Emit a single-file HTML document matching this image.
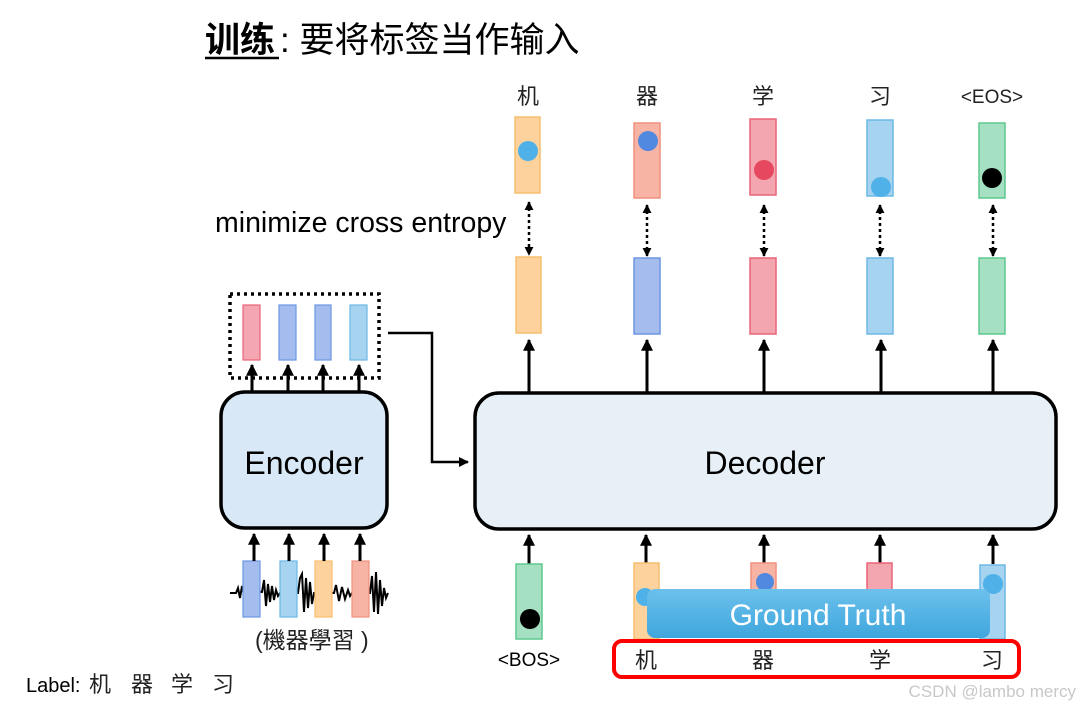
<!DOCTYPE html>
<html><head><meta charset="utf-8"><style>
html,body{margin:0;padding:0;background:#fff;}
svg{display:block;}
text{font-family:"Liberation Sans","Noto Sans CJK SC",sans-serif;}
</style></head><body>
<svg width="1080" height="706" viewBox="0 0 1080 706" xmlns="http://www.w3.org/2000/svg">
<defs>
<marker id="ah" viewBox="0 0 10 10" refX="9" refY="5" markerWidth="4" markerHeight="4" orient="auto-start-reverse"><path d="M0,0 L10,5 L0,10 z" fill="#000"/></marker>
<marker id="ah2" viewBox="0 0 10 10" refX="9" refY="5" markerWidth="3.6" markerHeight="3.6" orient="auto-start-reverse"><path d="M0,0 L10,5 L0,10 z" fill="#000"/></marker>
<linearGradient id="gt" x1="0" y1="0" x2="0" y2="1"><stop offset="0" stop-color="#6cc1ec"/><stop offset="1" stop-color="#3fa6dd"/></linearGradient>
</defs>
<!-- title -->
<text x="205" y="52" font-size="35" font-weight="bold" fill="#000">训练</text>
<line x1="205" y1="58" x2="279" y2="58" stroke="#000" stroke-width="2.5"/>
<text x="280" y="52" font-size="35" fill="#000">: 要将标签当作输入</text>

<!-- top labels -->
<g font-size="22" fill="#222" text-anchor="middle">
<text x="528" y="104">机</text><text x="647" y="104">器</text><text x="763" y="104">学</text><text x="880" y="104">习</text>
<text x="992" y="103" font-size="19">&lt;EOS&gt;</text>
</g>
<!-- top bars -->
<rect x="515" y="117" width="25" height="76" fill="#fdd29d" stroke="#f7be6f" stroke-width="1.5"/>
<rect x="634" y="123" width="26" height="75" fill="#f7b3a3" stroke="#f0917f" stroke-width="1.5"/>
<rect x="750" y="119" width="26" height="76" fill="#f3a5b0" stroke="#e86577" stroke-width="1.5"/>
<rect x="867" y="120" width="26" height="76" fill="#a6d4f0" stroke="#6cb8e6" stroke-width="1.5"/>
<rect x="979" y="123" width="26" height="75" fill="#a6e0c3" stroke="#5ec98e" stroke-width="1.5"/>
<circle cx="528" cy="151" r="10" fill="#4fb1e7"/>
<circle cx="648" cy="141" r="10" fill="#5189e0"/>
<circle cx="764" cy="170" r="10" fill="#e6495f"/>
<circle cx="881" cy="187" r="10" fill="#4fb1e7"/>
<circle cx="992" cy="178" r="10" fill="#000"/>

<text x="215" y="232" font-size="28.5" fill="#000">minimize cross entropy</text>
<!-- dotted double arrows -->
<g stroke="#000" stroke-width="2.5" stroke-dasharray="3,3" fill="none">
<line x1="529" y1="202" x2="529" y2="255" marker-start="url(#ah2)" marker-end="url(#ah2)"/>
<line x1="647" y1="205" x2="647" y2="256" marker-start="url(#ah2)" marker-end="url(#ah2)"/>
<line x1="764" y1="205" x2="764" y2="256" marker-start="url(#ah2)" marker-end="url(#ah2)"/>
<line x1="880" y1="205" x2="880" y2="256" marker-start="url(#ah2)" marker-end="url(#ah2)"/>
<line x1="993" y1="205" x2="993" y2="256" marker-start="url(#ah2)" marker-end="url(#ah2)"/>
</g>
<!-- middle bars -->
<rect x="516" y="257" width="25" height="76" fill="#fdd29d" stroke="#f7be6f" stroke-width="1.5"/>
<rect x="634" y="258" width="26" height="76" fill="#a4bcee" stroke="#6c97e3" stroke-width="1.5"/>
<rect x="750" y="258" width="26" height="76" fill="#f3a5b0" stroke="#e86577" stroke-width="1.5"/>
<rect x="867" y="258" width="26" height="76" fill="#a6d4f0" stroke="#6cb8e6" stroke-width="1.5"/>
<rect x="979" y="258" width="26" height="76" fill="#a6e0c3" stroke="#5ec98e" stroke-width="1.5"/>
<!-- decoder up arrows -->
<g stroke="#000" stroke-width="3">
<line x1="529" y1="392" x2="529" y2="340" marker-end="url(#ah)"/>
<line x1="647" y1="392" x2="647" y2="340" marker-end="url(#ah)"/>
<line x1="764" y1="392" x2="764" y2="340" marker-end="url(#ah)"/>
<line x1="881" y1="392" x2="881" y2="340" marker-end="url(#ah)"/>
<line x1="993" y1="392" x2="993" y2="340" marker-end="url(#ah)"/>
</g>
<!-- decoder -->
<rect x="475" y="393" width="581" height="136" rx="24" fill="#e6f0f6" stroke="#000" stroke-width="3.5"/>
<text x="765" y="474" font-size="32" text-anchor="middle" fill="#000">Decoder</text>
<!-- encoder -->
<rect x="221" y="392" width="166" height="136" rx="24" fill="#d8e8f6" stroke="#000" stroke-width="3.5"/>
<text x="304" y="474" font-size="32" text-anchor="middle" fill="#000">Encoder</text>
<!-- dotted box -->
<rect x="230" y="294" width="149" height="84" fill="none" stroke="#000" stroke-width="3.5" stroke-dasharray="3,4"/>
<rect x="243" y="305" width="17" height="55" fill="#f4a6b2" stroke="#e86577" stroke-width="1.2"/>
<rect x="279" y="305" width="17" height="55" fill="#a4bcee" stroke="#6c97e3" stroke-width="1.2"/>
<rect x="315" y="305" width="16" height="55" fill="#a4bcee" stroke="#6c97e3" stroke-width="1.2"/>
<rect x="350" y="305" width="17" height="55" fill="#a6d4f0" stroke="#6cb8e6" stroke-width="1.2"/>
<g stroke="#000" stroke-width="3">
<line x1="252" y1="392" x2="252" y2="365" marker-end="url(#ah)"/>
<line x1="288" y1="392" x2="288" y2="365" marker-end="url(#ah)"/>
<line x1="323" y1="392" x2="323" y2="365" marker-end="url(#ah)"/>
<line x1="359" y1="392" x2="359" y2="365" marker-end="url(#ah)"/>
</g>
<polyline points="388,333 432,333 432,462 468,462" fill="none" stroke="#000" stroke-width="2.5" marker-end="url(#ah)"/>

<!-- waveform -->
<path d="M230,593 L236,593 L238,588 L240,598 L242,586 L245,600 L248,590 L262,592 L264,580 L266,606 L268,584 L270,602 L272,586 L274,600 L276,590 L278,596 L280,593 L298,593 L300,578 L302,574 L304,612 L306,578 L308,608 L310,582 L312,604 L314,593 L334,593 L336,585 L339,601 L342,587 L345,599 L348,590 L350,596 L352,593 L370,593 L372,576 L374,612 L376,572 L378,614 L380,580 L382,606 L384,588 L386,598 L388,593" fill="none" stroke="#000" stroke-width="2"/>
<rect x="243" y="561" width="17" height="56" fill="#a4bcee" stroke="#6c97e3" stroke-width="1.2"/>
<rect x="280" y="561" width="17" height="56" fill="#a6d4f0" stroke="#6cb8e6" stroke-width="1.2"/>
<rect x="315" y="561" width="17" height="56" fill="#fdd29d" stroke="#f7be6f" stroke-width="1.2"/>
<rect x="352" y="561" width="17" height="56" fill="#f7b3a3" stroke="#f0917f" stroke-width="1.2"/>
<g stroke="#000" stroke-width="3">
<line x1="254" y1="561" x2="254" y2="534" marker-end="url(#ah)"/>
<line x1="289" y1="561" x2="289" y2="534" marker-end="url(#ah)"/>
<line x1="324" y1="561" x2="324" y2="534" marker-end="url(#ah)"/>
<line x1="360" y1="561" x2="360" y2="534" marker-end="url(#ah)"/>
</g>
<text x="255" y="648" font-size="23" fill="#222">(機器學習 )</text>
<text x="26" y="692" font-size="20" fill="#000">Label:</text>
<g font-size="22" fill="#222">
<text x="89" y="692">机</text><text x="131" y="692">器</text><text x="171" y="692">学</text><text x="212" y="692">习</text>
</g>

<!-- decoder inputs -->
<g stroke="#000" stroke-width="3">
<line x1="529" y1="564" x2="529" y2="535" marker-end="url(#ah)"/>
<line x1="646" y1="564" x2="646" y2="535" marker-end="url(#ah)"/>
<line x1="764" y1="564" x2="764" y2="535" marker-end="url(#ah)"/>
<line x1="880" y1="564" x2="880" y2="535" marker-end="url(#ah)"/>
<line x1="993" y1="564" x2="993" y2="535" marker-end="url(#ah)"/>
</g>
<rect x="516" y="564" width="26" height="75" fill="#a6e0c3" stroke="#5ec98e" stroke-width="1.5"/>
<circle cx="530" cy="619" r="10" fill="#000"/>
<rect x="634" y="563" width="25" height="76" fill="#fdd29d" stroke="#f7be6f" stroke-width="1.5"/>
<circle cx="645" cy="597" r="9" fill="#4fb1e7"/>
<rect x="751" y="563" width="25" height="40" fill="#f7b3a3" stroke="#f0917f" stroke-width="1.5"/>
<circle cx="765" cy="582" r="9" fill="#5189e0"/>
<rect x="867" y="563" width="25" height="40" fill="#f3a5b0" stroke="#e86577" stroke-width="1.5"/>
<rect x="980" y="565" width="25" height="74" fill="#a6d4f0" stroke="#6cb8e6" stroke-width="1.5"/>
<circle cx="993" cy="584" r="10" fill="#4fb1e7"/>
<rect x="647" y="589" width="343" height="49" rx="8" fill="url(#gt)"/>
<text x="818" y="625" font-size="30" fill="#fff" text-anchor="middle">Ground Truth</text>
<text x="529" y="666" font-size="19" fill="#000" text-anchor="middle">&lt;BOS&gt;</text>
<rect x="614" y="641" width="405" height="36" rx="8" fill="none" stroke="#f00" stroke-width="4"/>
<g font-size="22" fill="#222" text-anchor="middle">
<text x="646" y="668">机</text><text x="763" y="668">器</text><text x="880" y="668">学</text><text x="992" y="668">习</text>
</g>
<text x="1076" y="697" font-size="17" fill="#c8c8c8" text-anchor="end">CSDN @lambo mercy</text>
</svg>
</body></html>
